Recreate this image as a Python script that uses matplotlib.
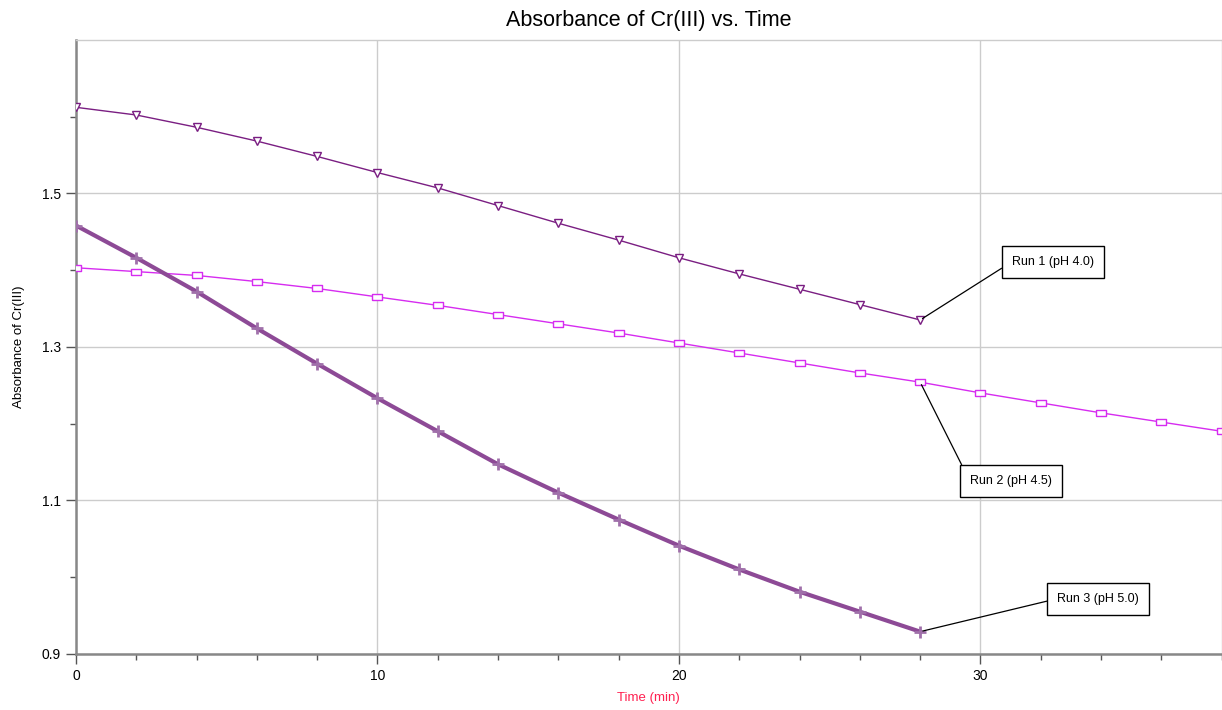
import matplotlib
matplotlib.use("Agg")
import matplotlib.pyplot as plt
from matplotlib.ticker import MultipleLocator, FixedLocator

# data
time_run1 = [0, 2, 4, 6, 8, 10, 12, 14, 16, 18, 20, 22, 24, 26, 28]
abs_run1 = [1.612, 1.602, 1.586, 1.568, 1.548, 1.527, 1.507, 1.484, 1.461,
            1.439, 1.416, 1.395, 1.375, 1.355, 1.335]

time_run2 = [0, 2, 4, 6, 8, 10, 12, 14, 16, 18, 20, 22, 24, 26, 28,
             30, 32, 34, 36, 38]
abs_run2 = [1.403, 1.398, 1.393, 1.385, 1.376, 1.365, 1.354, 1.342, 1.330,
            1.318, 1.305, 1.292, 1.279, 1.266, 1.254, 1.240, 1.227, 1.214,
            1.202, 1.190]

time_run3 = [0, 2, 4, 6, 8, 10, 12, 14, 16, 18, 20, 22, 24, 26, 28]
abs_run3 = [1.458, 1.416, 1.372, 1.324, 1.278, 1.233, 1.190, 1.147, 1.110,
            1.075, 1.041, 1.010, 0.981, 0.955, 0.929]

run_labels = ["Run 1 (pH 4.0)", "Run 2 (pH 4.5)", "Run 3 (pH 5.0)"]

plt.rcParams['font.family'] = ['Liberation Sans', 'DejaVu Sans']

fig = plt.figure(figsize=(12.22, 7.1), dpi=100)
ax = fig.add_axes([0.0622, 0.079, 0.9375, 0.865])

# flat rectangle marker like the original
rect = [(-1, -0.55), (1, -0.55), (1, 0.55), (-1, 0.55), (-1, -0.55)]

ax.plot(time_run1, abs_run1, color='#7a1e82', linewidth=1.0, marker='v',
        markersize=6, markerfacecolor='white', markeredgecolor='#7a1e82',
        markeredgewidth=1.0, zorder=3)
ax.plot(time_run2, abs_run2, color='#d62cf0', linewidth=1.0, marker=rect,
        markersize=7, markerfacecolor='white', markeredgecolor='#d62cf0',
        markeredgewidth=1.0, zorder=3)
ax.plot(time_run3, abs_run3, color='#8d4a96', linewidth=3.0, marker='+',
        markersize=8, markeredgecolor='#a070aa', markeredgewidth=2.0,
        zorder=3)

box = dict(boxstyle='square,pad=0.8', facecolor='white', edgecolor='black',
           linewidth=1.0)
arrow = dict(arrowstyle='-', color='black', linewidth=0.9,
             relpos=(0, 0.5), shrinkA=0, shrinkB=2)

ax.annotate(run_labels[0], xy=(time_run1[-1], abs_run1[-1]),
            xytext=(31.05, 1.411), ha='left', va='center', fontsize=9,
            bbox=box, arrowprops=arrow, zorder=5)
ax.annotate(run_labels[1], xy=(time_run2[14], abs_run2[14]),
            xytext=(29.65, 1.125), ha='left', va='center', fontsize=9,
            bbox=box, arrowprops=arrow, zorder=5)
ax.annotate(run_labels[2], xy=(time_run3[-1], abs_run3[-1]),
            xytext=(32.55, 0.972), ha='left', va='center', fontsize=9,
            bbox=box, arrowprops=arrow, zorder=5)

ax.set_xlim(0, 38)
ax.set_ylim(0.9, 1.7)
ax.xaxis.set_major_locator(MultipleLocator(10))
ax.xaxis.set_minor_locator(MultipleLocator(2))
ax.set_yticks([0.9, 1.1, 1.3, 1.5])
ax.yaxis.set_minor_locator(FixedLocator([1.0, 1.2, 1.4, 1.6]))

ax.grid(True, which='major', color='#cccccc', linewidth=1.0, zorder=0)
ax.tick_params(which='major', length=7, width=1.0, color='#555555',
               labelsize=10, pad=4)
ax.tick_params(which='minor', length=4, width=1.0, color='#555555')

for side in ['left', 'bottom']:
    ax.spines[side].set_color('#888888')
    ax.spines[side].set_linewidth(1.8)
for side in ['top', 'right']:
    ax.spines[side].set_color('#cccccc')
    ax.spines[side].set_linewidth(1.0)

ax.set_title("Absorbance of Cr(III) vs. Time", fontsize=15.5, pad=10)
ax.set_xlabel("Time (min)", color='#ff2050', fontsize=9.5, labelpad=6)
ax.set_ylabel("Absorbance of Cr(III)", fontsize=9.5, labelpad=12)

fig.savefig("out.png", dpi=100)
